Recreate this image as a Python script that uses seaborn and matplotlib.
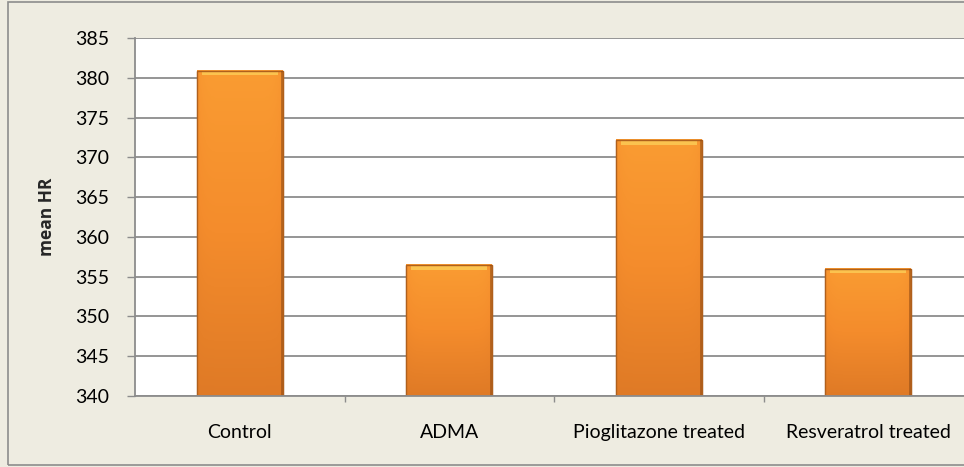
import matplotlib
matplotlib.use("Agg")
import matplotlib.pyplot as plt
import seaborn as sns
import numpy as np
import pandas as pd
from matplotlib.patches import Rectangle
from matplotlib.colors import LinearSegmentedColormap

categories = ["Control", "ADMA", "Pioglitazone treated", "Resveratrol treated"]
mean_hr = [380.9, 356.5, 372.2, 356.0]
y_ticks = [340, 345, 350, 355, 360, 365, 370, 375, 380, 385]

df = pd.DataFrame({"group": categories, "mean_hr": mean_hr})

sns.set_theme(style="white")
plt.rcParams["font.family"] = ["Lato", "DejaVu Sans"]

BG = "#EEECE1"
fig = plt.figure(figsize=(9.64, 4.67), dpi=100)
fig.patch.set_facecolor(BG)
# outer chart border
fig.patches.append(Rectangle((8 / 964, 2 / 467), 1.2, 463 / 467, transform=fig.transFigure,
                             fill=False, edgecolor="#8C8C8C", linewidth=1.2))

ax = fig.add_axes([135 / 964, 71 / 467, 838 / 964, 358 / 467])
ax.set_facecolor("white")

sns.barplot(data=df, x="group", y="mean_hr", ax=ax, width=0.41, color="#F7962E",
            edgecolor="#9A5418", linewidth=0.8, zorder=3)

YMIN, YMAX = 340, 385
ax.set_ylim(YMIN, YMAX)
ax.set_xlim(-0.5, 3.5)
ax.set_yticks(y_ticks)
ax.set_yticklabels([str(v) for v in y_ticks], fontsize=14, color="black")
ax.yaxis.grid(True, color="#8C8C8C", linewidth=1.3, zorder=0)
ax.set_axisbelow(True)

ax.set_xticks([0, 1, 2, 3])
ax.set_xticklabels(categories, fontsize=14, color="black")
ax.tick_params(axis="x", length=0, pad=20)
ax.tick_params(axis="y", length=6, width=1, color="#8C8C8C", left=True, pad=12.5)
# minor ticks between categories
ax.set_xticks([0.5, 1.5, 2.5], minor=True)
ax.tick_params(axis="x", which="minor", length=4, width=1, color="#8C8C8C", bottom=True, direction="out")

ax.set_xlabel("")
ax.set_ylabel("mean HR", fontsize=12.5, fontweight="bold", labelpad=14,
              family=["Open Sans", "DejaVu Sans"])

for s in ["top", "right"]:
    ax.spines[s].set_visible(False)
for s in ["left", "bottom"]:
    ax.spines[s].set_color("#8C8C8C")
    ax.spines[s].set_linewidth(1.3)
    ax.spines[s].set_zorder(5)

# gradient fill for bars
cmap = LinearSegmentedColormap.from_list("bar", ["#DF7A26", "#F48C2C", "#FA9C32"])
for p in ax.patches:
    x0, y0 = p.get_x(), p.get_y()
    w, h = p.get_width(), p.get_height()
    top = y0 + h
    bot = max(y0, YMIN)
    grad = np.linspace(0, 1, 256).reshape(-1, 1)
    horiz = 1 - 0.25 * (np.abs(np.linspace(-1, 1, 64)) ** 8)
    img = grad * horiz[None, :]
    im = ax.imshow(img, cmap=cmap, vmin=0, vmax=1, aspect="auto", origin="lower",
                   extent=[x0, x0 + w, bot, top], zorder=3.5, interpolation="bilinear")
    im.set_clip_box(ax.bbox)
    # top highlight
    ax.add_patch(Rectangle((x0 + w * 0.06, top - 0.6), w * 0.88, 0.5,
                           facecolor="#FCCB55", edgecolor="none", alpha=0.85, zorder=3.8))
    # dark side edges
    ax.add_patch(Rectangle((x0, bot), w, top - bot, facecolor="none", edgecolor="#B0601C",
                           linewidth=1.0, zorder=4))
    ax.add_patch(Rectangle((x0 + w - 0.01, bot), 0.01, top - bot, facecolor="#8E4A14",
                           edgecolor="none", alpha=0.55, zorder=4))
ax.set_xlim(-0.5, 3.5)
ax.set_ylim(YMIN, YMAX)

fig.savefig("out.png", dpi=100, facecolor=BG)
